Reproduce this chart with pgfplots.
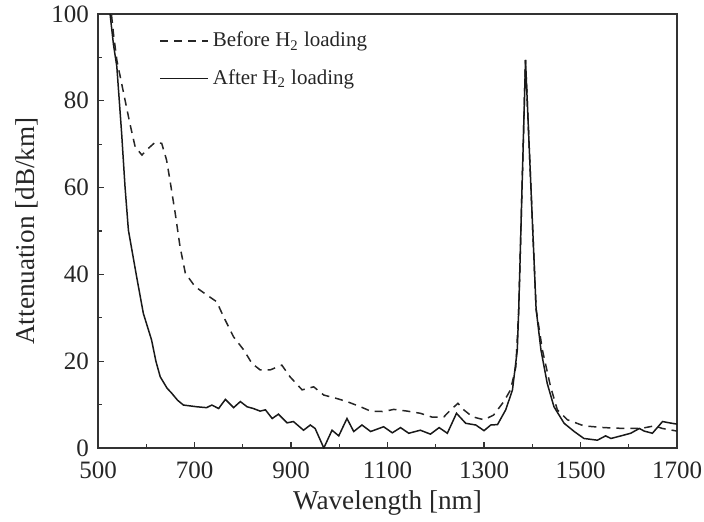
\documentclass[border=0pt]{standalone}
\usepackage{pgfplots}
\pgfplotsset{compat=1.18}
\usepackage{fontspec}
\setmainfont{Liberation Serif}
\begin{document}
\begin{tikzpicture}
\useasboundingbox (-49pt,-36.5pt) rectangle (303pt,224pt);
\begin{axis}[
  at={(0,0)}, anchor=south west,
  scale only axis, width=289.5pt, height=217pt,
  xmin=500, xmax=1700, ymin=0, ymax=100,
  xtick={500,700,...,1700}, ytick={0,20,...,100},
  minor x tick num=1, minor y tick num=1,
  tick align=inside, tick pos=left,
  major tick length=3pt, minor tick length=1.8pt,
  axis line style={line width=0.7pt, black!80},
  every tick/.style={line width=0.6pt, black!80},
  /pgf/number format/assume math mode=true,
  /pgf/number format/1000 sep={},
  tick label style={font=\fontsize{12.5}{14}\selectfont, black!85},
  xticklabel style={yshift=-3.5pt},
  yticklabel style={xshift=-1pt},
  label style={font=\fontsize{13.6}{15}\selectfont, black!85},
  xlabel={Wavelength [nm]},
  ylabel={Attenuation [dB/km]},
  xlabel style={yshift=1pt},
  ylabel style={yshift=0pt},
  legend style={draw=none, fill=none, at={(0.095,0.978)}, anchor=north west,
    font=\fontsize{10.5}{12}\selectfont, row sep=6pt, text=black!85},
  legend cell align=left,
  legend image code/.code={\draw[#1] (0pt,0pt) -- (24pt,0pt);},
]
\addplot[black!85, line width=0.75pt, dash pattern=on 4pt off 3pt] coordinates {
(528,99.8) (532,95.5) (539,89.4) (546,85.6) (556,80.2) (566,74.8) (577,69.4)
(591,67.5) (604,69.0) (618,70.4) (632,70.2) (642,66.4) (649,61.8) (660,54.1)
(670,46.4) (681,40.3) (701,37.2) (725,35.3) (746,33.7) (760,30.3) (781,25.6)
(802,22.6) (819,19.5) (836,18) (857,18) (881,19.1) (898,16.4) (923,13.4)
(947,14.1) (968,12.2) (995,11.4) (1016,10.7) (1044,9.5) (1065,8.5) (1092,8.4)
(1113,8.9) (1141,8.5) (1168,8.0) (1193,7.1) (1217,7.2) (1231,8.8) (1246,10.3)
(1258,8.8) (1276,7.2) (1300,6.5) (1320,7.6) (1341,10.7) (1355,13.4) (1366,18.7)
(1372,32) (1386,89.4) (1408,32) (1421,22.6) (1438,14.1) (1452,8.8) (1473,6.5)
(1507,5.1) (1549,4.7) (1591,4.5) (1625,4.5) (1653,5.1) (1670,4.5) (1700,3.9)
};
\addlegendentry{Before H\textsubscript{2} loading}
\addplot[black!90, line width=0.75pt] coordinates {
(525,100) (532,93) (539,87.9) (549,72.5) (556,60.2) (563,50.2) (580,39.5)
(594,31) (611,24.9) (620,20) (629,16.4) (643,13.8) (653,12.6) (665,11)
(677,9.9) (705,9.5) (725,9.3) (736,9.9) (750,9.1) (764,11.2) (781,9.3)
(795,10.7) (809,9.5) (822,9.1) (836,8.5) (847,8.8) (861,6.8) (874,7.8)
(892,5.8) (905,6.1) (926,4.1) (940,5.3) (950,4.5) (968,0) (985,4.1)
(999,2.8) (1016,6.8) (1030,3.8) (1047,5.3) (1065,3.8) (1092,4.9) (1110,3.5)
(1127,4.7) (1144,3.4) (1168,4.1) (1189,3.2) (1207,4.7) (1224,3.4) (1243,8.0)
(1262,5.7) (1283,5.3) (1300,4.0) (1314,5.3) (1328,5.4) (1345,8.8) (1359,13.4)
(1369,22.6) (1372,32) (1386,89.4) (1408,32) (1418,22.6) (1431,14.9) (1445,9.5)
(1466,5.7) (1487,3.8) (1507,2.2) (1535,1.8) (1552,2.8) (1563,2.2) (1584,2.8)
(1604,3.4) (1622,4.5) (1632,3.9) (1649,3.4) (1670,6.1) (1684,5.8) (1700,5.5)
};
\addlegendentry{After H\textsubscript{2} loading}
\end{axis}
\end{tikzpicture}
\end{document}
